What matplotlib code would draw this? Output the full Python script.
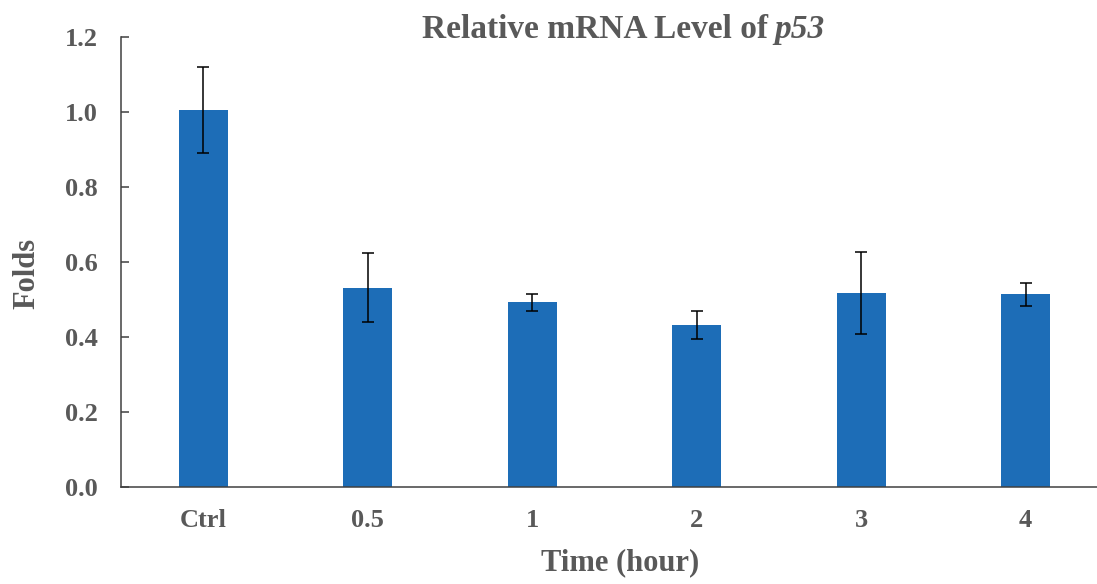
import numpy as np
import matplotlib
matplotlib.use("Agg")
import matplotlib.pyplot as plt

# values
categories = ["Ctrl", "0.5", "1", "2", "3", "4"]
folds = [1.005, 0.532, 0.493, 0.432, 0.518, 0.514]
errors = [0.114, 0.091, 0.023, 0.038, 0.109, 0.031]
y_ticks = [0.0, 0.2, 0.4, 0.6, 0.8, 1.0, 1.2]

plt.rcParams['font.family'] = ['Liberation Serif', 'DejaVu Serif']

text_color = '#595959'
bar_color = '#1d6db7'

fig = plt.figure(figsize=(10.97, 5.84), dpi=100)
W, H = 1097, 584
left, right, top, bottom = 121, 1108, 37, 487
ax = fig.add_axes([left / W, 1 - bottom / H, (right - left) / W, (bottom - top) / H])

x = np.arange(len(categories))
ax.bar(x, folds, width=0.30, color=bar_color, zorder=2)
ax.errorbar(x, folds, yerr=errors, fmt='none', ecolor='black',
            elinewidth=1.1, capsize=4, capthick=1.1, zorder=3)

ax.set_xlim(-0.5, len(categories) - 0.5)
ax.set_ylim(0, 1.2)
ax.set_yticks(y_ticks)
ax.set_yticklabels([f"{v:.1f}" for v in y_ticks])
ax.set_xticks(x)
ax.set_xticklabels(categories)

for s in ['top', 'right']:
    ax.spines[s].set_visible(False)
for s in ['left', 'bottom']:
    ax.spines[s].set_color('#404040')
    ax.spines[s].set_linewidth(1.1)

ax.tick_params(axis='y', direction='in', length=6, width=1.1, color='#404040',
               pad=17, labelsize=19, labelcolor=text_color)
ax.tick_params(axis='x', length=0, pad=16, labelsize=19, labelcolor=text_color)
for lab in ax.get_xticklabels() + ax.get_yticklabels():
    lab.set_fontweight('bold')

# axis labels
fig.text(620 / W, 1 - 563 / H, "Time (hour)", ha='center', va='center',
         fontsize=22, fontweight='bold', color=text_color)
fig.text(27 / W, 1 - 273 / H, "Folds", ha='center', va='center', rotation=90,
         fontsize=22, fontweight='bold', color=text_color)

# title with italic gene name
renderer = fig.canvas.get_renderer()
t1 = fig.text(0, 1 - 38 / H, "Relative mRNA Level of", ha='left', va='baseline',
              fontsize=24, fontweight='bold', color=text_color)
t2 = fig.text(0, 1 - 38 / H, "p53", ha='left', va='baseline', fontsize=24,
              fontweight='bold', fontstyle='italic', color=text_color)
w1 = t1.get_window_extent(renderer).width
w2 = t2.get_window_extent(renderer).width
gap = 6
x0 = 623.5 - (w1 + gap + w2) / 2
t1.set_x(x0 / W)
t2.set_x((x0 + w1 + gap) / W)

fig.savefig("out.png", dpi=100)
